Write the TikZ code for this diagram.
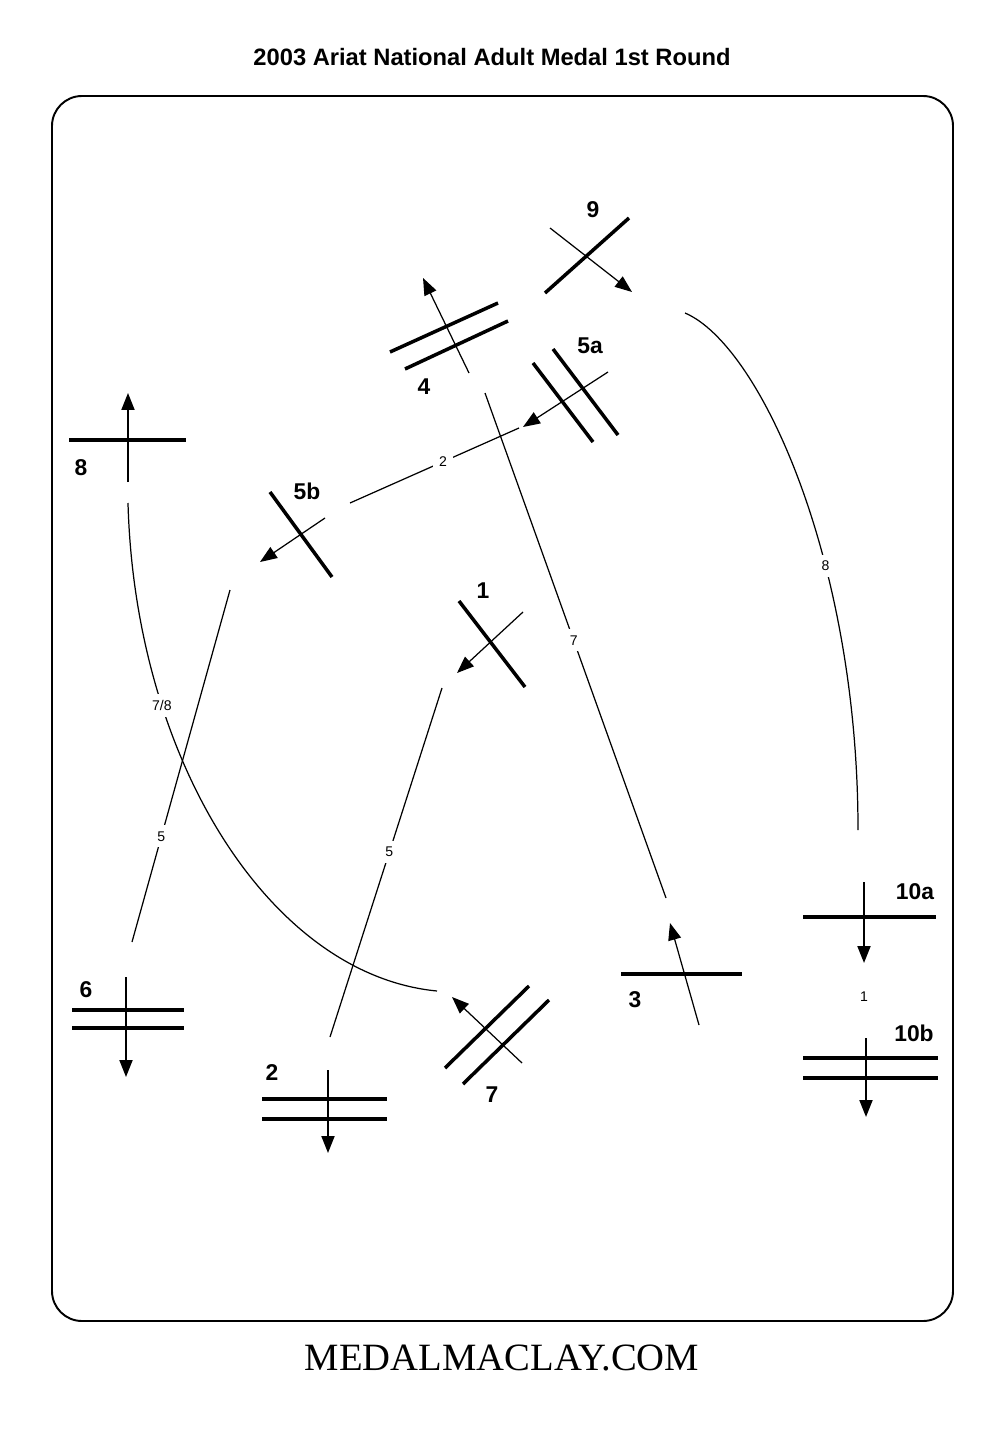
\documentclass[tikz,border=0pt]{standalone}
\usepackage{fontspec}
\setmainfont{Liberation Sans}
\newfontfamily\footfont{Liberation Serif}
\usetikzlibrary{arrows.meta}
\begin{document}
\begin{tikzpicture}[x=0.02cm,y=-0.02cm,
  fence/.style={line width=2pt},
  ride/.style={line width=0.7pt,-{Triangle[length=0.34cm,width=0.26cm]}},
  vride/.style={line width=1.1pt,-{Triangle[length=0.34cm,width=0.26cm]}},
  track/.style={line width=0.7pt},
  jlabel/.style={font=\fontsize{13}{15}\selectfont\bfseries, inner sep=0pt},
  plabel/.style={font=\fontsize{8}{9}\selectfont, fill=white, inner sep=3.5pt},
]
\useasboundingbox (0,0) rectangle (1000,1429);
% title and footer
\node[font=\fontsize{13.5}{16}\selectfont\bfseries] (title) at (492,57) {2003 Ariat National Adult Medal 1st Round};
\node[font=\footfont\fontsize{22}{26}\selectfont] (foot) at (502,1358) {MEDALMACLAY.COM};
% arena
\draw[line width=1.1pt, rounded corners=0.6cm] (52,96) rectangle (953,1321);

% ---------- jumps ----------
% 9
\draw[fence] (545,293) -- (629,218);
\coordinate (a9s) at (550,228); \coordinate (a9e) at (632,292);
\draw[ride] (a9s) -- (a9e);
\node[jlabel] (l9) at (593,210) {9};
% 4
\draw[fence] (390,352) -- (498,303);
\draw[fence] (405,369) -- (508,321);
\coordinate (a4s) at (469,373); \coordinate (a4e) at (423,278);
\draw[ride] (a4s) -- (a4e);
\node[jlabel] (l4) at (424,387) {4};
% 5a
\draw[fence] (553,349) -- (618,435);
\draw[fence] (533,363) -- (593,442);
\coordinate (a5as) at (608,372); \coordinate (a5ae) at (523,427);
\draw[ride] (a5as) -- (a5ae);
\node[jlabel] (l5a) at (590,346) {5a};
% 8
\draw[fence] (69,440) -- (186,440);
\coordinate (a8s) at (128,482); \coordinate (a8e) at (128,393);
\draw[vride] (a8s) -- (a8e);
\node[jlabel] (l8) at (81,468) {8};
% 5b
\draw[fence] (270,492) -- (332,577);
\coordinate (a5bs) at (325,518); \coordinate (a5be) at (260,562);
\draw[ride] (a5bs) -- (a5be);
\node[jlabel] (l5b) at (307,491) {5b};
% 1
\draw[fence] (459,601) -- (525,687);
\coordinate (a1s) at (523,612); \coordinate (a1e) at (457,673);
\draw[ride] (a1s) -- (a1e);
\node[jlabel] (l1) at (483,591) {1};
% 3
\draw[fence] (621,974) -- (742,974);
\coordinate (a3s) at (699,1025); \coordinate (a3e) at (670,923);
\draw[ride] (a3s) -- (a3e);
\node[jlabel] (l3) at (635,1000) {3};
% 10a
\draw[fence] (803,917) -- (936,917);
\coordinate (a10as) at (864,882); \coordinate (a10ae) at (864,963);
\draw[vride] (a10as) -- (a10ae);
\node[jlabel] (l10a) at (915,892) {10a};
% 10b
\draw[fence] (803,1058) -- (938,1058);
\draw[fence] (803,1078) -- (938,1078);
\coordinate (a10bs) at (866,1038); \coordinate (a10be) at (866,1117);
\draw[vride] (a10bs) -- (a10be);
\node[jlabel] (l10b) at (914,1033) {10b};
% 6
\draw[fence] (72,1010) -- (184,1010);
\draw[fence] (72,1028) -- (184,1028);
\coordinate (a6s) at (126,977); \coordinate (a6e) at (126,1077);
\draw[vride] (a6s) -- (a6e);
\node[jlabel] (l6) at (86,990) {6};
% 2
\draw[fence] (262,1099) -- (387,1099);
\draw[fence] (262,1119) -- (387,1119);
\coordinate (a2s) at (328,1070); \coordinate (a2e) at (328,1153);
\draw[vride] (a2s) -- (a2e);
\node[jlabel] (l2) at (272,1073) {2};
% 7
\draw[fence] (445,1068) -- (529,986);
\draw[fence] (463,1084) -- (549,1000);
\coordinate (a7s) at (522,1063); \coordinate (a7e) at (452,997);
\draw[ride] (a7s) -- (a7e);
\node[jlabel] (l7) at (492,1095) {7};

% ---------- track lines ----------
\coordinate (t2s) at (519,428); \coordinate (t2e) at (350,503);
\draw[track] (t2s) -- node[plabel, pos=0.45] (n2) {2} (t2e);
\coordinate (t7s) at (485,393); \coordinate (t7e) at (666,898);
\draw[track] (t7s) -- node[plabel, pos=0.49] (n7) {7} (t7e);
\coordinate (t5as) at (230,590); \coordinate (t5ae) at (132,942);
\draw[track] (t5as) -- node[plabel, pos=0.70] (n5a) {5} (t5ae);
\coordinate (t5bs) at (442,688); \coordinate (t5be) at (330,1037);
\draw[track] (t5bs) -- node[plabel, pos=0.47] (n5b) {5} (t5be);
\coordinate (t8s) at (685,313); \coordinate (t8e) at (858,830);
\draw[track] (t8s) .. controls (760,345) and (858,560) .. node[plabel, pos=0.64] (n8) {8} (t8e);
\coordinate (t78s) at (128,503); \coordinate (t78e) at (437,991);
\draw[track] (t78s) .. controls (135,760) and (270,975) .. node[plabel, pos=0.28] (n78) {7/8} (t78e);
\node[font=\fontsize{8}{9}\selectfont] (n1) at (864,997) {1};
\end{tikzpicture}
\end{document}
